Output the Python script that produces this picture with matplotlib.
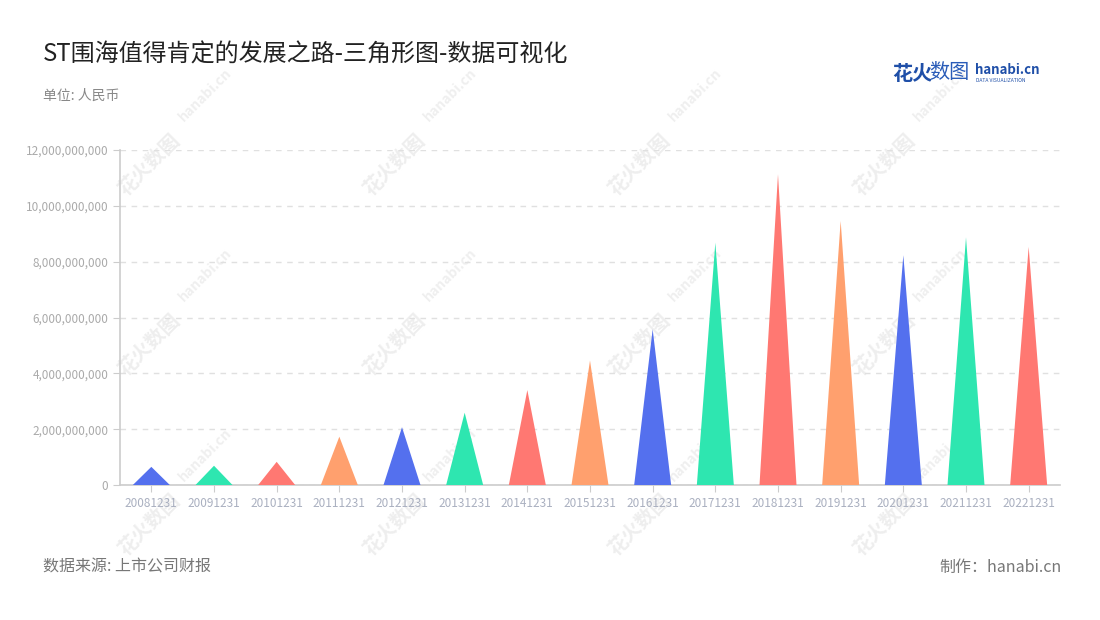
import numpy as np
import matplotlib.pyplot as plt
from matplotlib.ticker import FuncFormatter

plt.rcParams['font.family'] = ['Noto Sans CJK SC', 'DejaVu Sans']

# data (RMB)
years = ['20081231', '20091231', '20101231', '20111231', '20121231',
         '20131231', '20141231', '20151231', '20161231', '20171231',
         '20181231', '20191231', '20201231', '20211231', '20221231']
values = [0.65e9, 0.69e9, 0.83e9, 1.73e9, 2.07e9,
          2.59e9, 3.40e9, 4.46e9, 5.58e9, 8.68e9,
          11.13e9, 9.46e9, 8.23e9, 8.87e9, 8.53e9]
palette = ['#5470ee', '#2ee6b0', '#ff7872', '#ffa06e']

fig = plt.figure(figsize=(11, 6.2), dpi=100)
ax = fig.add_axes([120/1100, 1-485/620, 940/1100, 335/620])
ax.set_facecolor('none')

halfw = 0.295
for i, v in enumerate(values):
    ax.fill([i-halfw, i, i+halfw], [0, v, 0], color=palette[i % 4], lw=0, zorder=3)

ax.set_xlim(-0.5, len(years)-0.5)
ax.set_ylim(0, 12e9)
ax.set_yticks(np.arange(0, 12.1e9, 2e9))
ax.yaxis.set_major_formatter(FuncFormatter(lambda v, p: '{:,.0f}'.format(v)))
ax.set_xticks(range(len(years)))
ax.set_xticklabels(years)

ax.grid(axis='y', color='#e0e0e0', ls=(0, (4, 4)), lw=1)
ax.set_axisbelow(True)
for s in ['top', 'right']:
    ax.spines[s].set_visible(False)
for s in ['left', 'bottom']:
    ax.spines[s].set_color('#cccccc')
    ax.spines[s].set_linewidth(1.2)
ax.tick_params(axis='both', colors='#cccccc', labelcolor='#aaaaaa', labelsize=8.5, length=5)
ax.tick_params(axis='x', labelcolor='#aab0c0')

# watermark (behind the axes)
for cx in [150, 395, 640, 885]:
    for cy in [165, 345, 525]:
        fig.text(cx/1100, 1-cy/620, '花火数图', rotation=45, fontsize=14, fontweight='bold',
                 color='#eeeeee', ha='center', va='center', zorder=-5)
        fig.text((cx+55)/1100, 1-(cy-70)/620, 'hanabi.cn', rotation=45, fontsize=10, fontweight='bold',
                 color='#efefef', ha='center', va='center', zorder=-5)

fig.text(43/1100, 1-55/620, 'ST围海值得肯定的发展之路-三角形图-数据可视化', fontsize=17.3, color='#222222',
         ha='left', va='center')
fig.text(43/1100, 1-96/620, '单位: 人民币', fontsize=10, color='#888888', ha='left', va='center')
fig.text(43/1100, 1-567/620, '数据来源: 上市公司财报', fontsize=11.5, color='#777777', ha='left', va='center')
fig.text(1062/1100, 1-567/620, '制作：hanabi.cn', fontsize=11.5, color='#777777', ha='right', va='center')

# logo
fig.text(892/1100, 1-73/620, '花火', fontsize=14.5, fontweight='bold', color='#1f4fa8', ha='left', va='center')
fig.text(929/1100, 1-73/620, '数图', fontsize=14.5, color='#2a5cb8', ha='left', va='center')
fig.text(975/1100, 1-70/620, 'hanabi.cn', fontsize=9.5, fontweight='bold', color='#1f4fa8', ha='left', va='center')
fig.text(976/1100, 1-80/620, 'DATA VISUALIZATION', fontsize=3.6, color='#1f4fa8', ha='left', va='center')

fig.savefig('out.png', dpi=100, facecolor='white')
